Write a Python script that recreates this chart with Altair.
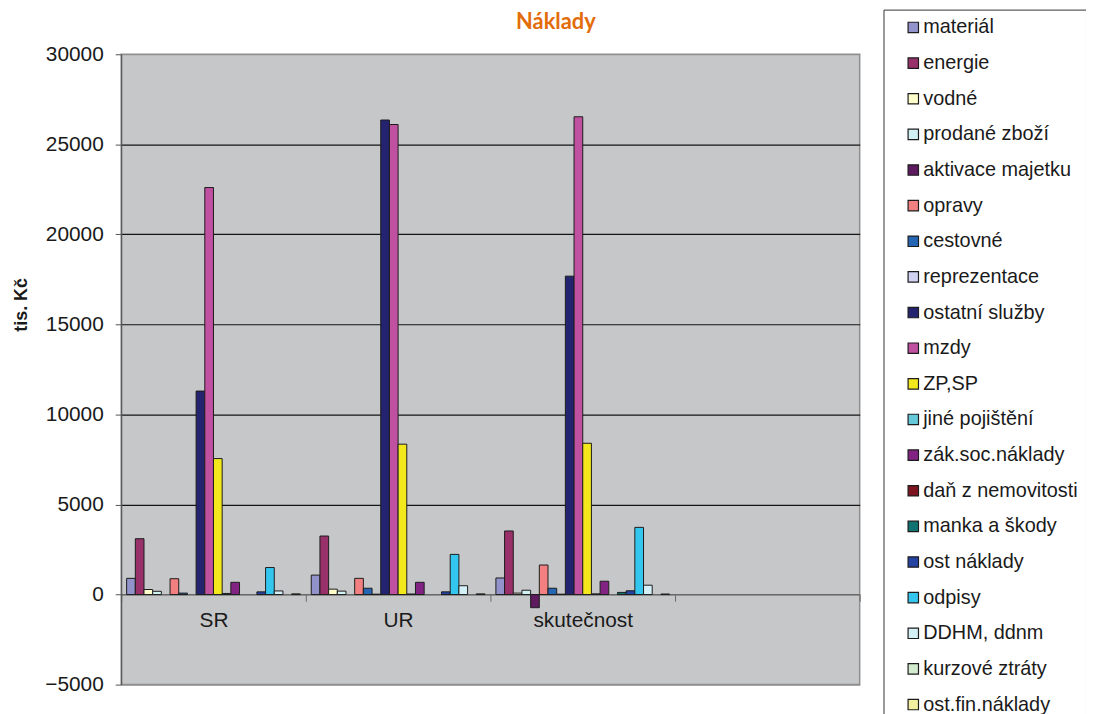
import altair as alt
import pandas as pd

categories = ["SR", "UR", "skutečnost"]
axis_slots = ["SR", "UR", "skutečnost", " "]

series = [
    "materiál", "energie", "vodné", "prodané zboží", "aktivace majetku",
    "opravy", "cestovné", "reprezentace", "ostatní služby", "mzdy",
    "ZP,SP", "jiné pojištění", "zák.soc.náklady", "daň z nemovitosti",
    "manka a škody", "ost náklady", "odpisy", "DDHM, ddnm",
    "kurzové ztráty", "ost.fin.náklady",
]

values_sr = [900, 3100, 280, 180, 0, 880, 80, 0, 11300, 22600,
             7550, 60, 680, 0, 0, 150, 1500, 200, 0, 40]
values_ur = [1080, 3250, 300, 190, 0, 900, 350, 20, 26350, 26100,
             8350, 30, 680, 0, 0, 150, 2230, 490, 0, 40]
values_sk = [920, 3530, 80, 240, -730, 1640, 350, 20, 17680, 26530,
             8400, 40, 740, 0, 120, 210, 3730, 520, 0, 30]

colors = [
    "#9393CC", "#98306A", "#FFFFCC", "#D2F1F3", "#5E1A5E",
    "#F28080", "#2466B4", "#D2D2F2", "#23236F", "#C050A0",
    "#F2E81C", "#66C9D9", "#822384", "#7E1420", "#117272",
    "#2443A3", "#33C7F0", "#D4F0F7", "#D2EBCC", "#F3EFA0",
]

y_ticks = [-5000, 0, 5000, 10000, 15000, 20000, 25000, 30000]
title_text = ["Náklady"]

rows = []
for cat, vals in zip(categories, [values_sr, values_ur, values_sk]):
    for s, v in zip(series, vals):
        rows.append({"kat": cat, "series": s, "value": v})
df = pd.DataFrame(rows)

FONT = "Liberation Sans"

bars = alt.Chart(df).transform_filter("datum.value != 0").mark_bar(
    stroke="#1c1c1c", strokeWidth=1
).encode(
    x=alt.X(
        "kat:N",
        scale=alt.Scale(domain=axis_slots, paddingInner=0, paddingOuter=0),
        axis=alt.Axis(
            title=None, labelAngle=0, grid=False, offset=-91,
            tickBand="extent", tickSize=7, tickColor="#6a6a6a",
            domainColor="#6a6a6a", domainWidth=1.5, labelPadding=8,
            labelFontSize=21, labelFont=FONT, labelColor="#1a1a1a",
        ),
    ),
    xOffset=alt.XOffset(
        "series:N",
        scale=alt.Scale(domain=series, paddingInner=0, paddingOuter=0.63),
    ),
    y=alt.Y(
        "value:Q",
        scale=alt.Scale(domain=[-5000, 30000], nice=False, zero=False),
        axis=alt.Axis(
            title="tis. Kč", values=y_ticks, format="d",
            labelFontSize=21, labelFont=FONT, labelColor="#1a1a1a",
            labelPadding=12, tickSize=6, tickColor="#555555",
            domainColor="#555555", domainWidth=1.2,
            gridColor={"condition": {"test": "datum.value == 30000 || datum.value == -5000 || datum.value == 0",
                                     "value": "#8f8f8f"}, "value": "#151515"},
            gridWidth=1.2,
            titleFont=FONT, titleFontSize=18, titleFontWeight="bold",
            titleColor="#1a1a1a", titleAngle=270, titleX=-100, titleY=252,
            titleAlign="center", titleBaseline="middle",
        ),
    ),
    color=alt.Color(
        "series:N",
        scale=alt.Scale(domain=series, range=colors),
        legend=alt.Legend(
            title=None, orient="none", legendX=768, legendY=-45,
            direction="vertical", columns=1,
            symbolType="square", symbolSize=110, symbolStrokeColor="#1c1c1c",
            symbolStrokeWidth=1.2, symbolOpacity=1, symbolOffset=12,
            labelFont=FONT, labelFontSize=20, labelColor="#1a1a1a",
            labelOffset=0, rowPadding=15.9, padding=8,
            strokeColor="#333333", fillColor="#FFFFFF", labelLimit=400,
        ),
    ),
)

title = alt.Chart(pd.DataFrame({"t": title_text})).mark_text(
    font="Lato", fontSize=22, fontWeight="bold", color="#E36C0A",
    align="center", baseline="alphabetic",
).encode(text="t:N", x=alt.value(438), y=alt.value(-25))

chart = alt.layer(bars, title).properties(
    width=744, height=635,
    autosize=alt.AutoSizeParams(type="none"),
    padding={"left": 114, "top": 44, "right": 228, "bottom": 27},
    background="#FFFFFF",
).configure_view(
    fill="#C6C7C9", stroke="#8f8f8f", strokeWidth=1.5,
)

chart.save("out.html", embed_options={"renderer": "svg", "actions": False})
